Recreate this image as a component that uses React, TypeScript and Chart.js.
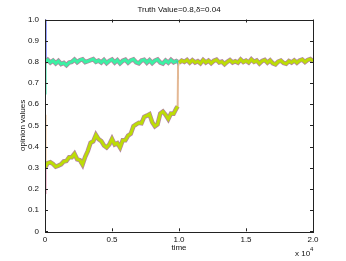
import React, { useEffect, useRef } from "react";
import { Chart, registerables } from "chart.js";

Chart.register(...registerables);

const titleText = "Truth Value=0.8,\u03b4=0.04";
const xTitle = "time";
const yTitle = "opinion values";

// x positions (in units of 10^4)
const stepX = 0.02;

// upper (green) group, x = 0 .. 0.98
const upperVals = [
  0.800, 0.810, 0.797, 0.806, 0.793, 0.804, 0.790, 0.795, 0.784, 0.797,
  0.800, 0.811, 0.798, 0.808, 0.812, 0.799, 0.803, 0.808, 0.813, 0.800,
  0.806, 0.797, 0.809, 0.794, 0.805, 0.811, 0.797, 0.808, 0.793, 0.805,
  0.810, 0.796, 0.807, 0.812, 0.798, 0.793, 0.806, 0.810, 0.796, 0.808,
  0.794, 0.806, 0.811, 0.797, 0.792, 0.806, 0.796, 0.809, 0.798, 0.804,
];

// lower (yellow) group, x = 0 .. 0.98
const lowerVals1 = [
  0.300, 0.322, 0.326, 0.318, 0.305, 0.310, 0.316, 0.330, 0.332, 0.350,
  0.350, 0.366, 0.340, 0.336, 0.315, 0.352, 0.380, 0.418, 0.425, 0.455,
  0.435, 0.426, 0.405, 0.396, 0.410, 0.436, 0.410, 0.416, 0.395, 0.430,
  0.430, 0.452, 0.460, 0.496, 0.505, 0.512, 0.510, 0.540, 0.546, 0.553,
  0.515, 0.496, 0.505, 0.556, 0.565, 0.550, 0.530, 0.556, 0.555, 0.580,
];

// lower group after consensus, x = 1.00 .. 2.00
const lowerVals2 = [
  0.795, 0.806, 0.800, 0.809, 0.796, 0.808, 0.797, 0.803, 0.793, 0.809,
  0.797, 0.806, 0.794, 0.805, 0.810, 0.797, 0.801, 0.789, 0.800, 0.808,
  0.797, 0.803, 0.796, 0.811, 0.799, 0.806, 0.797, 0.812, 0.800, 0.806,
  0.792, 0.804, 0.809, 0.796, 0.807, 0.793, 0.788, 0.801, 0.806, 0.795,
  0.791, 0.804, 0.797, 0.807, 0.796, 0.806, 0.811, 0.799, 0.809, 0.813,
  0.804,
];

// jump of lower group near t = 1
const jumpX = [0.98, 0.99, 0.993, 1.0];
const jumpY = [0.58, 0.59, 0.78, 0.795];

// drop of upper group near t = 1
const dropX = [0.98, 0.99, 0.993];
const dropY = [0.804, 0.800, 0.72];

// initial opinions converging at t = 0
const initStarts = [1.0, 0.65, 0.55, 0.18];
const initEnds = [0.80, 0.80, 0.31, 0.30];
const initColors = ["#4a5cff", "#3ee8b0", "#f0c8a0", "#e89ab8"];
const initEndX = 0.006;

const xTicks = [0, 0.5, 1, 1.5, 2];
const yTicks = [0, 0.1, 0.2, 0.3, 0.4, 0.5, 0.6, 0.7, 0.8, 0.9, 1];

const GREEN = "#3cf0a4";
const YELLOW = "#bcdc08";
const EDGE = "rgba(165,110,140,0.85)";
const FONT = "Liberation Sans, Arial, sans-serif";

function pts(vals: number[], x0: number) {
  return vals.map((v, i) => ({ x: +(x0 + i * stepX).toFixed(4), y: v }));
}

export default function App() {
  const ref = useRef<HTMLCanvasElement | null>(null);

  useEffect(() => {
    const canvas = ref.current;
    if (!canvas) return;

    const upper = pts(upperVals, 0).concat([{ x: 0.99, y: 0.8 }]);
    const lower1 = pts(lowerVals1, 0).concat([{ x: 0.99, y: 0.59 }]);
    const lower2 = pts(lowerVals2, 1.0);
    const jump = jumpX.map((x, i) => ({ x, y: jumpY[i] }));
    const drop = dropX.map((x, i) => ({ x, y: dropY[i] }));

    const base = { pointRadius: 0, tension: 0, fill: false, borderJoinStyle: "miter" as const };

    // listed bottom-most first; reversed below because Chart.js draws dataset 0 on top
    const datasets: any[] = [];
    initStarts.forEach((s, i) => {
      datasets.push({
        ...base,
        data: [{ x: 0, y: s }, { x: initEndX, y: initEnds[i] }],
        borderColor: initColors[i],
        borderWidth: 1.5,
      });
    });
    datasets.push({ ...base, data: upper, borderColor: EDGE, borderWidth: 4.5 });
    datasets.push({ ...base, data: lower1, borderColor: EDGE, borderWidth: 4.5 });
    datasets.push({ ...base, data: lower2, borderColor: EDGE, borderWidth: 4.5 });
    datasets.push({ ...base, data: upper, borderColor: GREEN, borderWidth: 3 });
    datasets.push({ ...base, data: drop, borderColor: "#40c8b8", borderWidth: 1.5 });
    datasets.push({ ...base, data: jump, borderColor: "#e4b894", borderWidth: 2 });
    datasets.push({ ...base, data: lower1, borderColor: YELLOW, borderWidth: 3 });
    datasets.push({ ...base, data: lower2, borderColor: YELLOW, borderWidth: 3 });
    datasets.reverse();

    const framePlugin = {
      id: "frame",
      afterDraw(chart: any) {
        const { ctx, chartArea: a, scales } = chart;
        const xs = scales.x;
        const ys = scales.y;
        ctx.save();
        ctx.strokeStyle = "#222";
        ctx.lineWidth = 1;
        ctx.strokeRect(Math.round(a.left) + 0.5, Math.round(a.top) + 0.5,
          Math.round(a.right - a.left), Math.round(a.bottom - a.top));
        const tl = 3;
        ctx.beginPath();
        xTicks.forEach((v) => {
          const px = Math.round(xs.getPixelForValue(v)) + 0.5;
          ctx.moveTo(px, a.bottom);
          ctx.lineTo(px, a.bottom - tl);
          ctx.moveTo(px, a.top);
          ctx.lineTo(px, a.top + tl);
        });
        yTicks.forEach((v) => {
          const py = Math.round(ys.getPixelForValue(v)) + 0.5;
          ctx.moveTo(a.left, py);
          ctx.lineTo(a.left + tl, py);
          ctx.moveTo(a.right, py);
          ctx.lineTo(a.right - tl, py);
        });
        ctx.stroke();

        ctx.fillStyle = "#111";
        ctx.font = `8px ${FONT}`;
        ctx.textAlign = "center";
        ctx.textBaseline = "middle";
        const cx = (a.left + a.right) / 2;
        ctx.fillText(titleText, cx, 10);
        ctx.fillText(xTitle, cx, 248);
        ctx.textAlign = "left";
        ctx.fillText("x 10", 295, 253.5);
        ctx.font = `6px ${FONT}`;
        ctx.fillText("4", 310, 249.5);
        ctx.font = `8px ${FONT}`;
        ctx.translate(23, (a.top + a.bottom) / 2);
        ctx.rotate(-Math.PI / 2);
        ctx.textAlign = "center";
        ctx.fillText(yTitle, 0, 0);
        ctx.restore();
      },
    };

    const chart = new Chart(canvas, {
      type: "line",
      data: { datasets },
      options: {
        animation: false,
        responsive: false,
        maintainAspectRatio: false,
        events: [],
        layout: { padding: { left: 0, top: 19.5, right: 33, bottom: 0 } },
        plugins: { legend: { display: false }, title: { display: false }, tooltip: { enabled: false } },
        scales: {
          x: {
            type: "linear",
            min: 0,
            max: 2,
            grid: { display: false, drawTicks: false },
            border: { display: false },
            ticks: {
              stepSize: 0.5,
              padding: 4,
              color: "#111",
              font: { size: 8, family: FONT },
              maxRotation: 0,
              autoSkip: false,
            },
            afterFit: (s: any) => { s.height = 29.7; },
          },
          y: {
            type: "linear",
            min: 0,
            max: 1,
            grid: { display: false, drawTicks: false },
            border: { display: false },
            ticks: {
              stepSize: 0.1,
              padding: 6,
              color: "#111",
              font: { size: 8, family: FONT },
              autoSkip: false,
            },
            afterFit: (s: any) => { s.width = 45; },
          },
        },
      },
      plugins: [framePlugin],
    });

    return () => chart.destroy();
  }, []);

  return (
    <div style={{ position: "fixed", left: 0, top: 0, width: 346, height: 261, background: "#fff" }}>
      <canvas ref={ref} width={346} height={261} style={{ width: 346, height: 261, display: "block" }} />
    </div>
  );
}
